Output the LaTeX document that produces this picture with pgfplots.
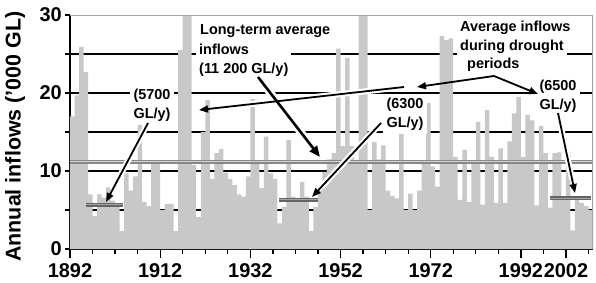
\documentclass[border=0pt]{standalone}
\usepackage{fontspec}
\setmainfont{Liberation Sans}
\usepackage{pgfplots}
\pgfplotsset{compat=1.18}
\usepackage{pgfplotstable}
\usetikzlibrary{arrows.meta}
\definecolor{barg}{RGB}{200,200,200}
\definecolor{avgc}{RGB}{135,135,135}
\definecolor{avgi}{RGB}{212,212,212}
\definecolor{drc}{RGB}{100,100,100}
\definecolor{dri}{RGB}{165,165,165}
\definecolor{framec}{RGB}{165,165,165}

\pgfplotstableread{
year val
1892 17.0
1893 19.7
1894 25.9
1895 22.7
1896 7.0
1897 4.2
1898 7.0
1899 6.6
1900 7.9
1901 6.2
1902 5.8
1903 2.3
1904 9.7
1905 7.5
1906 9.3
1907 15.9
1908 6.0
1909 5.5
1910 11.0
1911 11.0
1912 5.0
1913 5.8
1914 5.8
1915 2.3
1916 25.5
1917 33
1918 33
1919 10.8
1920 4.1
1921 15.0
1922 19.1
1923 9.0
1924 12.3
1925 12.8
1926 9.8
1927 9.0
1928 8.2
1929 7.0
1930 6.7
1931 9.3
1932 19.2
1933 11.0
1934 7.8
1935 14.4
1936 9.7
1937 9.0
1938 3.3
1939 5.4
1940 14.0
1941 6.7
1942 6.1
1943 8.6
1944 6.7
1945 2.3
1946 5.4
1947 7.5
1948 9.9
1949 11.5
1950 12.3
1951 25.7
1952 13.2
1953 24.5
1954 13.2
1955 11.3
1956 33
1957 33
1958 5.0
1959 13.7
1960 11.5
1961 13.3
1962 7.5
1963 6.8
1964 6.5
1965 15.3
1966 5.0
1967 7.1
1968 5.0
1969 7.5
1970 11.4
1971 18.7
1972 10.6
1973 8.0
1974 27.3
1975 26.8
1976 27.0
1977 11.8
1978 6.3
1979 12.7
1980 6.0
1981 11.0
1982 16.3
1983 5.7
1984 17.8
1985 11.8
1986 5.9
1987 12.9
1988 5.9
1989 13.8
1990 17.4
1991 19.5
1992 11.8
1993 17.2
1994 16.5
1995 5.6
1996 15.8
1997 12.3
1998 5.3
1999 12.3
2000 12.4
2001 6.5
2002 12.5
2003 2.4
2004 6.5
2005 5.9
2006 5.5
2007 5.0
}\inflows

\begin{document}
\begin{tikzpicture}[x=1bp,y=1bp]
\useasboundingbox (-70,-33) rectangle (526,249);
\begin{axis}[
  at={(0,0)}, anchor=south west,
  scale only axis, width=523bp, height=234bp,
  xmin=1892, xmax=2008, ymin=0, ymax=30,
  axis x line*=bottom, axis y line*=left,
  axis line style={black, line width=1.3bp},
  xtick={1892,1912,1932,1952,1972,1992,2002},
  xticklabels={1892,1912,1932,1952,1972,1992,2002},
  minor xtick={1897,1902,1907,1917,1922,1927,1937,1942,1947,1957,1962,1967,1977,1982,1987,1997,2007},
  ytick={0,10,20,30}, yticklabels={0,10,20,30},
  minor ytick={0,5,...,30},
  tick align=outside,
  major tick length=9bp, minor tick length=5bp,
  tick style={black, line width=1.3bp},
  major y tick style={draw=none},
  tick label style={font=\bfseries\fontsize{20}{20}\selectfont, inner sep=3bp},
  yticklabel style={xshift=4bp},
  xticklabel style={yshift=-2bp},
  ylabel={Annual inflows ('000 GL)},
  ylabel style={at={(axis description cs:-0.105,0.48)}, anchor=center, font=\bfseries\fontsize{21.5}{21.5}\selectfont},
]
% grid lines
\addplot[black, line width=1.8bp, forget plot] coordinates {(1892,5) (2008,5)};
\addplot[black, line width=1.8bp, forget plot] coordinates {(1892,10) (2008,10)};
\addplot[black, line width=1.8bp, forget plot] coordinates {(1892,15) (2008,15)};
\addplot[black, line width=1.8bp, forget plot] coordinates {(1892,20) (2008,20)};
\addplot[black, line width=1.8bp, forget plot] coordinates {(1892,25) (2008,25)};
% annual inflows
\addplot[ybar, bar width=1, bar shift=0pt, fill=barg, draw=none] table[x expr=\thisrow{year}+0.5, y=val] {\inflows};
% long-term average
\addplot[avgc, line width=4bp] coordinates {(1892,11.2) (2008,11.2)};
\addplot[avgi, line width=1.4bp] coordinates {(1892,11.2) (2008,11.2)};
% drought averages
\addplot[drc, line width=4bp] coordinates {(1895.5,5.7) (1903.7,5.7)};
\addplot[dri, line width=1.2bp] coordinates {(1895.5,5.7) (1903.7,5.7)};
\addplot[drc, line width=4bp] coordinates {(1938.3,6.3) (1947.1,6.3)};
\addplot[dri, line width=1.2bp] coordinates {(1938.3,6.3) (1947.1,6.3)};
\addplot[drc, line width=4bp] coordinates {(1998.4,6.5) (2007.6,6.5)};
\addplot[dri, line width=1.2bp] coordinates {(1998.4,6.5) (2007.6,6.5)};
\draw[framec, line width=1.5bp] (rel axis cs:0,1) -- (rel axis cs:1,1) -- (rel axis cs:1,0);
\end{axis}
% halos
\begin{scope}[white, line width=6bp]
\draw[shorten >=14bp] (78,126) -- (36,47);
\draw[shorten >=14bp, line width=8bp] (188,172) -- (250,92);
\draw[shorten >=14bp] (311,126) -- (242,52);
\draw[shorten >=14bp] (488,136) -- (505,56);
\draw[shorten >=14bp] (334,162) -- (129,139);
\end{scope}
% texts
\tikzset{ann/.style={font=\bfseries\fontsize{14.5}{19}\selectfont, inner sep=3bp, fill=white}}
\node[ann, anchor=west] at (127,218) {Long-term average};
\node[ann, anchor=north west, align=left] at (126,208) {inflows\\(11 200 GL/y)};
\node[ann, align=center, inner sep=4bp] at (82,144) {(5700\\GL/y)};
\node[ann, align=center, inner sep=4bp] at (335,135) {(6300\\GL/y)};
\node[ann, align=center, inner sep=4bp] at (488,153) {(6500\\GL/y)};
\node[ann, anchor=west] at (387,221) {Average inflows};
\node[ann, anchor=west] at (387,202) {during drought};
\node[ann, anchor=west] at (394,184) {periods};
% arrows
\begin{scope}[black, line width=1.8bp, -{Triangle[length=9bp,width=7bp]}]
\draw (78,126) -- (36,47);
\draw[line width=2.6bp, -{Triangle[length=11bp,width=9bp]}] (188,172) -- (250,92);
\draw (311,126) -- (242,52);
\draw (488,136) -- (505,56);
\draw (424,173) -- (347,162);
\draw (334,162) -- (129,139);
\draw (424,173) -- (468,155);
\end{scope}
\end{tikzpicture}
\end{document}
